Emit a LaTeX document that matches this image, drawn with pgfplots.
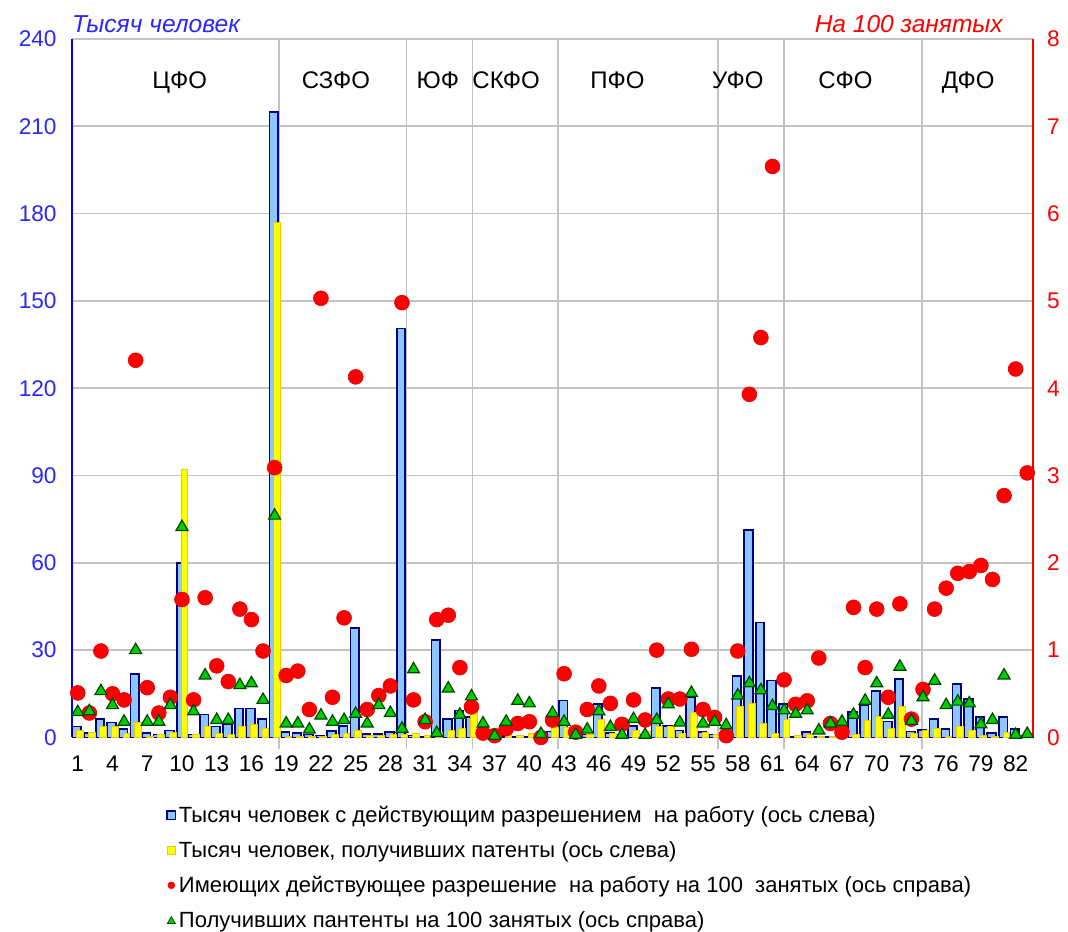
\documentclass[border=0pt]{standalone}
\usepackage{fontspec}
\setmainfont{Liberation Sans}
\usepackage{pgfplots}
\pgfplotsset{compat=1.18}
\usepackage{pgfplotstable}

\definecolor{barblue}{RGB}{140,200,255}
\definecolor{navy}{RGB}{0,0,128}
\definecolor{baryellow}{RGB}{255,255,0}
\definecolor{yedge}{RGB}{240,200,0}
\definecolor{tickblue}{RGB}{40,40,255}
\definecolor{gridgray}{RGB}{195,195,195}
\definecolor{mkgreen}{RGB}{0,205,0}
\definecolor{mkgreenedge}{RGB}{0,70,0}

\pgfplotstableread{
x blue yellow red green
1 3.8 2.4 0.51 0.29
2 1.6 1.8 0.28 0.30
3 6.4 3.9 0.99 0.53
4 5.1 3.9 0.50 0.37
5 3.0 1.3 0.43 0.18
6 21.7 5.1 4.32 1.00
7 1.6 0.5 0.57 0.18
8 1.0 1.0 0.28 0.18
9 2.4 1.8 0.46 0.37
10 60 92 1.58 2.41
11 1.0 1.0 0.43 0.30
12 7.9 3.9 1.60 0.71
13 3.8 1.3 0.82 0.20
14 4.7 1.0 0.64 0.20
15 9.9 3.9 1.47 0.60
16 9.9 4.5 1.35 0.62
17 6.4 3.0 0.99 0.43
18 215 177 3.09 2.54
19 1.8 0.3 0.71 0.16
20 1.5 0.3 0.76 0.16
21 1.0 0.3 0.32 0.09
22 0.7 0.3 5.03 0.25
23 2.2 1.0 0.46 0.18
24 3.9 1.3 1.37 0.20
25 37.5 2.4 4.13 0.27
26 1.3 0.7 0.32 0.16
27 1.3 0.7 0.48 0.37
28 1.8 1.0 0.59 0.28
29 140.5 1.0 4.98 0.10
30 0.7 1.3 0.43 0.78
31 0.3 0.7 0.18 0.20
32 33.4 1.8 1.35 0.05
33 6.4 2.4 1.40 0.56
34 9.3 3.0 0.80 0.26
35 7.0 9.0 0.35 0.47
36 0.7 0.3 0.05 0.16
37 0.3 0.3 0.02 0.02
38 0.5 1.0 0.10 0.18
39 0.3 0.7 0.16 0.42
40 0.3 1.3 0.18 0.39
41 0.3 1.0 0.00 0.04
42 2.0 3.6 0.20 0.28
43 12.7 3.6 0.73 0.18
44 0.3 0.3 0.06 0.03
45 1.0 1.0 0.32 0.09
46 11.4 6.1 0.59 0.30
47 1.5 1.5 0.39 0.12
48 1.0 0.5 0.15 0.03
49 3.9 2.4 0.43 0.21
50 1.0 2.0 0.20 0.03
51 17.0 3.9 1.00 0.20
52 3.9 3.9 0.44 0.38
53 2.4 1.3 0.44 0.17
54 14.0 8.7 1.01 0.51
55 1.8 1.8 0.32 0.16
56 1.0 1.0 0.23 0.18
57 0.3 0.3 0.02 0.14
58 21.0 10.8 0.99 0.48
59 71.3 11.6 3.93 0.62
60 39.5 4.7 4.58 0.54
61 19.6 1.3 6.54 0.36
62 11.4 6.1 0.66 0.31
63 0.3 0.6 0.38 0.27
64 1.8 1.0 0.42 0.31
65 0.3 0.3 0.91 0.08
66 0.3 0.3 0.16 0.16
67 0.3 0.6 0.06 0.18
68 8.7 1.0 1.49 0.26
69 11.0 5.9 0.80 0.42
70 16.0 7.2 1.47 0.62
71 5.5 3.2 0.46 0.26
72 20.2 10.8 1.53 0.81
73 2.0 1.5 0.21 0.19
74 2.5 2.4 0.55 0.46
75 6.4 3.2 1.47 0.65
76 3.0 0.3 1.71 0.37
77 18.3 3.9 1.88 0.41
78 13.3 2.4 1.90 0.39
79 7.0 0.7 1.97 0.15
80 1.5 0.3 1.81 0.20
81 7.0 1.8 2.77 0.71
82 3.0 0.3 4.22 0.03
83 0.5 0.2 3.03 0.04
}\data

\newcommand{\tickfont}{\fontsize{17}{20}\selectfont}
\newcommand{\distfont}{\fontsize{18}{21}\selectfont}
\newcommand{\titfont}{\fontsize{18.4}{22}\selectfont}
\newcommand{\legfont}{\fontsize{16.5}{19.5}\selectfont}

\begin{document}
\begin{tikzpicture}
\begin{axis}[
  name=ax1,
  scale only axis,
  width=721pt, height=524pt,
  xmin=0.5, xmax=83.5,
  ymin=0, ymax=240,
  axis x line*=bottom,
  axis y line*=left,
  x axis line style={black, line width=1pt, -},
  y axis line style={blue, line width=1pt, -},
  xtick={1,4,...,82},
  ytick={0,30,...,240},
  major tick length=0pt,
  ymajorgrids,
  major grid style={gridgray, line width=1.3pt},
  extra x ticks={18.35,29.4,35.1,42.5,56.3,62.0,73.9},
  extra x tick labels={},
  extra x tick style={grid=major, major tick length=9pt, tick align=outside,
      tick style={gridgray, line width=1.3pt}},
  tick label style={font=\tickfont},
  /pgf/number format/assume math mode=true,
  yticklabel style={text=tickblue, xshift=-8pt},
  xticklabel style={text=black, yshift=-10pt},
  clip=false,
]
\addplot[ybar, bar width=0.74, bar shift=-0.08, fill=barblue, draw=navy, line width=1.3pt] table[x=x, y=blue]{\data};
\addplot[ybar, bar width=0.58, bar shift=0.2, fill=baryellow, draw=yedge, line width=0.6pt] table[x=x, y=yellow]{\data};
\node[font=\distfont, anchor=base] at (axis cs:9.8,223) {ЦФО};
\node[font=\distfont, anchor=base] at (axis cs:23.3,223) {СЗФО};
\node[font=\distfont, anchor=base] at (axis cs:32.1,223) {ЮФ};
\node[font=\distfont, anchor=base] at (axis cs:38.0,223) {СКФО};
\node[font=\distfont, anchor=base] at (axis cs:47.6,223) {ПФО};
\node[font=\distfont, anchor=base] at (axis cs:58.0,223) {УФО};
\node[font=\distfont, anchor=base] at (axis cs:67.3,223) {СФО};
\node[font=\distfont, anchor=base] at (axis cs:77.9,223) {ДФО};
\end{axis}
\begin{axis}[
  scale only axis,
  width=721pt, height=524pt,
  xmin=0.5, xmax=83.5,
  ymin=0, ymax=8,
  axis x line=none,
  axis y line*=right,
  y axis line style={red, line width=1pt, -},
  ytick={0,1,...,8},
  major tick length=0pt,
  tick label style={font=\tickfont},
  /pgf/number format/assume math mode=true,
  yticklabel style={text=red, xshift=7pt},
  clip=false,
  legend style={at={(0.098,-0.094)}, anchor=north west, draw=none, fill=none,
     font=\legfont, row sep=8.7pt, inner sep=0pt},
  legend cell align=left,
]
\addlegendimage{legend image code/.code={\draw[fill=barblue, draw=navy, line width=1pt] (0pt,-3.2pt) rectangle (6.4pt,3.2pt);}}
\addlegendentry{Тысяч человек с действующим разрешением\ \ на работу (ось слева)}
\addlegendimage{legend image code/.code={\draw[fill=baryellow, draw=yedge, line width=0.6pt] (0pt,-3.2pt) rectangle (6.4pt,3.2pt);}}
\addlegendentry{Тысяч человек, получивших патенты (ось слева)}
\addlegendimage{legend image code/.code={\fill[red] (3.2pt,0pt) circle (2.6pt);}}
\addlegendentry{Имеющих действующее разрешение\ \ на работу на 100\ \ занятых (ось справа)}
\addlegendimage{legend image code/.code={\draw[fill=mkgreen, draw=mkgreenedge, line width=0.5pt] (0.2pt,-2.3pt) -- (6.2pt,-2.3pt) -- (3.2pt,2.9pt) -- cycle;}}
\addlegendentry{Получивших пантенты на 100 занятых (ось справа)}
\addplot[forget plot, only marks, mark=*, mark size=5.6pt, mark options={fill=red, draw=red!85!black, line width=0.4pt}] table[x=x, y=red]{\data};
\addplot[forget plot, only marks, mark=triangle*, mark size=5.2pt, mark options={fill=mkgreen, draw=mkgreenedge, line width=0.9pt}] table[x=x, y=green]{\data};
\end{axis}
\node[anchor=base west, font=\itshape\titfont, text=tickblue, inner sep=0pt] at ([yshift=4.5pt]ax1.north west) {Тысяч человек};
\node[anchor=base east, font=\itshape\titfont, text=red, inner sep=0pt] at ([xshift=-22.5pt,yshift=4.5pt]ax1.north east) {На 100 занятых};
\pgfresetboundingbox
\path ([shift={(-54pt,-145.5pt)}]ax1.south west) rectangle ([shift={(26.25pt,29.25pt)}]ax1.north east);
\end{tikzpicture}
\end{document}
